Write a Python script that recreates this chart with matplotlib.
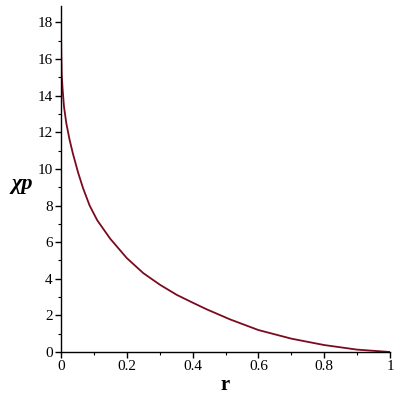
import matplotlib
matplotlib.use("Agg")
import matplotlib.pyplot as plt
from matplotlib.ticker import MultipleLocator

r_vals = [0.0, 0.0005, 0.002, 0.005, 0.009, 0.016, 0.026, 0.036, 0.052, 0.067,
          0.087, 0.110, 0.149, 0.2, 0.25, 0.301, 0.352, 0.402, 0.443, 0.514,
          0.6, 0.7, 0.8, 0.9, 1.0]
chi_vals = [19.0, 16.8, 15.2, 14.33, 13.42, 12.51, 11.6, 10.85, 9.8, 8.95,
            8.0, 7.2, 6.2, 5.13, 4.31, 3.67, 3.12, 2.68, 2.33, 1.78,
            1.2, 0.73, 0.38, 0.13, 0.0]
x_ticks = [0, 0.2, 0.4, 0.6, 0.8, 1]
x_tick_labels = ["0", "0.2", "0.4", "0.6", "0.8", "1"]
y_ticks = [0, 2, 4, 6, 8, 10, 12, 14, 16, 18]

plt.rcParams['font.family'] = ['Liberation Serif', 'DejaVu Serif']

fig = plt.figure(figsize=(4, 4), dpi=100)
ax = fig.add_axes([0.1525, 0.12, 0.8225, 0.865])
ax.plot(r_vals, chi_vals, color='#7a0a1e', lw=1.3, clip_on=True,
        solid_joinstyle='round')
ax.set_xlim(0, 1)
ax.set_ylim(0, 18.9)
for s in ['top', 'right']:
    ax.spines[s].set_visible(False)
for s in ['left', 'bottom']:
    ax.spines[s].set_linewidth(1.0)
ax.set_xticks(x_ticks)
ax.set_xticklabels(x_tick_labels)
ax.set_yticks(y_ticks)
ax.xaxis.set_minor_locator(MultipleLocator(0.1))
ax.yaxis.set_minor_locator(MultipleLocator(1))
ax.tick_params(which='major', length=4, width=1, labelsize=11, direction='out', pad=2)
ax.tick_params(which='minor', length=2, width=0.8, direction='out')
ax.set_xlabel('r', fontsize=15, fontweight='bold', labelpad=1)
fig.text(0.055, 0.54, 'χp', fontsize=16, fontweight='bold', style='italic',
         ha='center', va='center')
fig.savefig('out.png', dpi=100)
